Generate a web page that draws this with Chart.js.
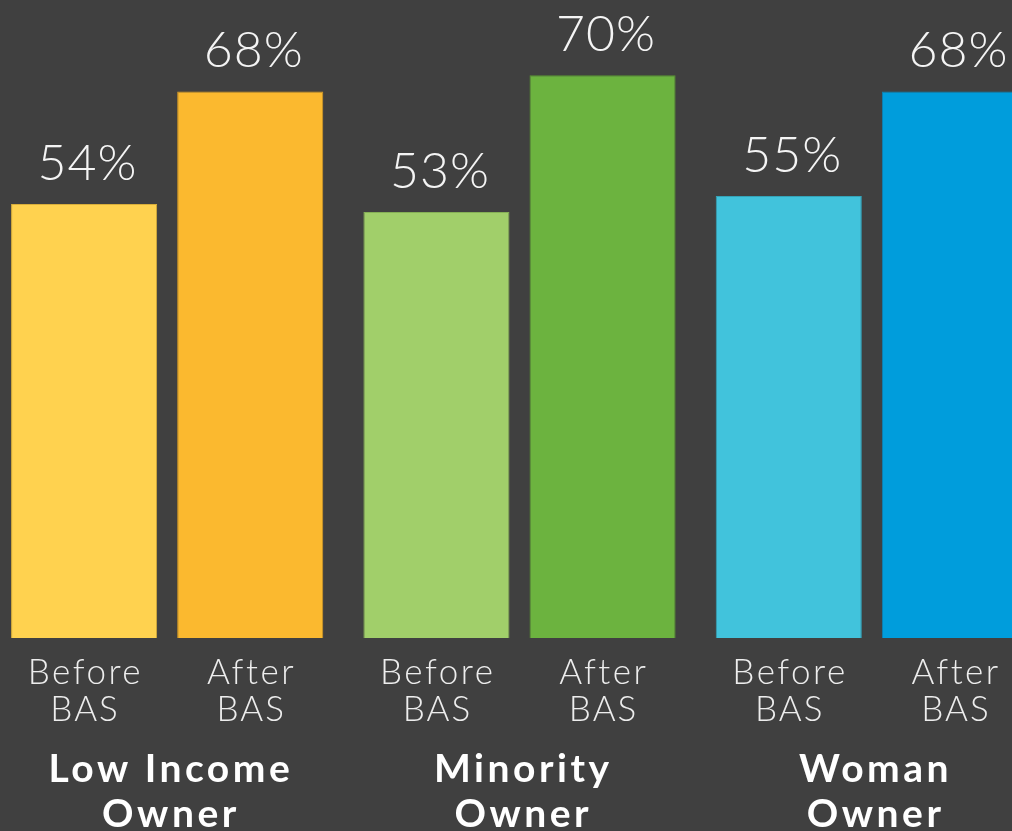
<!DOCTYPE html>
<html>
<head>
<meta charset="utf-8">
<script src="https://cdn.jsdelivr.net/npm/chart.js@4/dist/chart.umd.min.js"></script>
<style>
  html, body { margin: 0; padding: 0; background: #404040; overflow: hidden; width: 1012px; height: 831px; }
  #wrap { position: absolute; left: -9px; top: 0; width: 1057px; height: 831px; }
</style>
</head>
<body>
<div id="wrap"><canvas id="c"></canvas></div>
<script>
const groups = [["Low Income", "Owner"], ["Minority", "Owner"], ["Woman", "Owner"]];
const seriesNames = [["Before", "BAS"], ["After", "BAS"]];
const beforeValues = [54, 53, 55];
const afterValues = [68, 70, 68];
const beforeColors = ["#FFD24F", "#A1CF6A", "#41C3DC"];
const afterColors = ["#FBB92F", "#6CB33F", "#009DDC"];
const beforeBorders = ["#D9AE3A", "#85B055", "#34A3B8"];
const afterBorders = ["#D69A22", "#579430", "#0A82B5"];

function spaced(ctx, text, x, y, sp) {
  ctx.letterSpacing = sp + 'px';
  ctx.fillText(text, x + sp / 2, y);
  ctx.letterSpacing = '0px';
}

const textPlugin = {
  id: 'texts',
  beforeDraw(chart) {
    const ctx = chart.ctx;
    ctx.save();
    ctx.fillStyle = '#404040';
    ctx.fillRect(0, 0, chart.width, chart.height);
    ctx.restore();
  },
  afterDatasetsDraw(chart) {
    const ctx = chart.ctx;
    ctx.save();
    ctx.textAlign = 'center';
    ctx.textBaseline = 'alphabetic';
    chart.data.datasets.forEach((ds, di) => {
      const meta = chart.getDatasetMeta(di);
      meta.data.forEach((bar, i) => {
        ctx.fillStyle = '#F4F4F4';
        ctx.font = '300 50px Lato';
        spaced(ctx, ds.data[i] + '%', bar.x + 3, bar.y - 24, 1);
        ctx.font = '300 35px Lato';
        ctx.fillStyle = '#EDEDED';
        spaced(ctx, seriesNames[di][0], bar.x, 684, 2.5);
        spaced(ctx, seriesNames[di][1], bar.x, 721, 2);
      });
    });
    const xs = chart.scales.x;
    ctx.font = 'bold 39px Lato';
    ctx.fillStyle = '#FFFFFF';
    groups.forEach((g, i) => {
      const x = xs.getPixelForValue(i);
      spaced(ctx, g[0], x + 2, 782, 3.5);
      spaced(ctx, g[1], x + 2, 827, 3.5);
    });
    ctx.restore();
  }
};

new Chart(document.getElementById('c'), {
  type: 'bar',
  data: {
    labels: groups.map(g => g.join(' ')),
    datasets: [
      { label: seriesNames[0].join(' '), data: beforeValues, backgroundColor: beforeColors, borderColor: beforeBorders, borderWidth: 1,
        barPercentage: 0.8795, categoryPercentage: 0.943 },
      { label: seriesNames[1].join(' '), data: afterValues, backgroundColor: afterColors, borderColor: afterBorders, borderWidth: 1,
        barPercentage: 0.8795, categoryPercentage: 0.943 }
    ]
  },
  options: {
    responsive: true,
    maintainAspectRatio: false,
    animation: false,
    layout: { padding: { top: 3, bottom: 193, left: 0, right: 0 } },
    plugins: { legend: { display: false }, tooltip: { enabled: false } },
    scales: {
      x: { display: false },
      y: { display: false, min: 0, max: 79 }
    }
  },
  plugins: [textPlugin]
});
</script>
</body>
</html>
